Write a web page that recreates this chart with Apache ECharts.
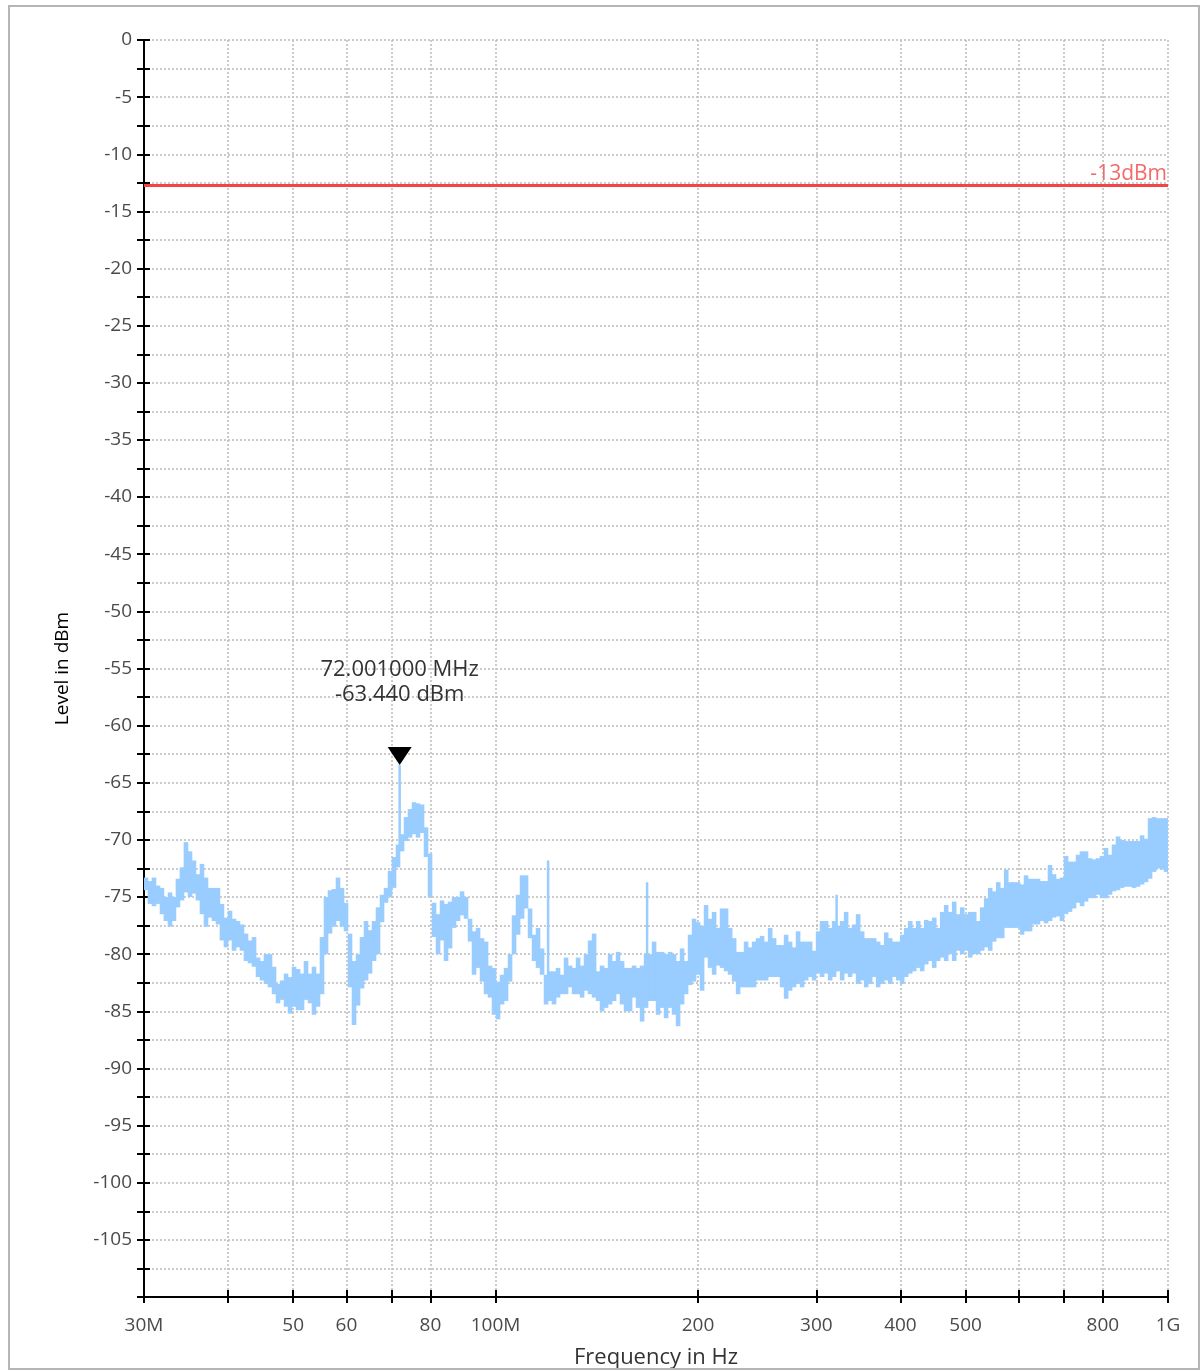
<!DOCTYPE html>
<html>
<head>
<meta charset="utf-8">
<script src="https://cdn.jsdelivr.net/npm/echarts@6/dist/echarts.min.js"></script>
<style>
  html, body { margin: 0; padding: 0; background: #ffffff; }
  #chart { width: 1203px; height: 1372px; }
</style>
</head>
<body>
<div id="chart"></div>
<script>
// ---------- DATA ----------
// Sweep frequencies in MHz
const freqMHz = [
  30.00, 30.41, 30.83, 31.26, 31.69, 32.12, 32.57, 33.02,
  33.47, 33.93, 34.40, 34.88, 35.36, 35.84, 36.34, 36.84,
  37.35, 37.86, 38.39, 38.91, 39.45, 40.00, 40.55, 41.11,
  41.68, 42.25, 42.84, 43.43, 44.03, 44.63, 45.25, 45.87,
  46.51, 47.15, 47.80, 48.46, 49.13, 49.80, 50.49, 51.19,
  51.89, 52.61, 53.33, 54.07, 54.81, 55.57, 56.34, 57.11,
  57.90, 58.70, 59.51, 60.33, 61.16, 62.01, 62.86, 63.73,
  64.61, 65.50, 66.40, 67.32, 68.25, 69.19, 70.14, 71.11,
  72.09, 73.09, 74.09, 75.12, 76.15, 77.20, 78.27, 79.35,
  80.44, 81.55, 82.68, 83.82, 84.97, 86.15, 87.33, 88.54,
  89.76, 91.00, 92.25, 93.53, 94.82, 96.12, 97.45, 98.79,
  100.16, 101.54, 102.94, 104.36, 105.80, 107.26, 108.74, 110.24,
  111.76, 113.30, 114.86, 116.45, 118.05, 119.68, 121.33, 123.01,
  124.70, 126.42, 128.17, 129.94, 131.73, 133.55, 135.39, 137.26,
  139.15, 141.07, 143.01, 144.99, 146.99, 149.02, 151.07, 153.16,
  155.27, 157.41, 159.58, 161.78, 164.01, 166.28, 168.57, 170.89,
  173.25, 175.64, 178.06, 180.52, 183.01, 185.53, 188.09, 190.69,
  193.32, 195.98, 198.68, 201.4, 204.2, 207.0, 209.9, 212.8,
  215.7, 218.7, 221.7, 224.8, 227.9, 231.0, 234.2, 237.4,
  240.7, 244.0, 247.4, 250.8, 254.3, 257.8, 261.3, 264.9,
  268.6, 272.3, 276.0, 279.8, 283.7, 287.6, 291.6, 295.6,
  299.7, 303.8, 308.0, 312.3, 316.6, 320.9, 325.4, 329.9,
  334.4, 339.0, 343.7, 348.5, 353.3, 358.2, 363.1, 368.1,
  373.2, 378.4, 383.6, 388.9, 394.3, 399.7, 405.2, 410.8,
  416.5, 422.2, 428.1, 434.0, 440.0, 446.0, 452.2, 458.4,
  464.7, 471.1, 477.6, 484.2, 490.9, 497.7, 504.5, 511.5,
  518.5, 525.7, 532.9, 540.3, 547.7, 555.3, 563.0, 570.7,
  578.6, 586.6, 594.7, 602.9, 610.8, 619.2, 627.8, 636.4,
  645.2, 654.1, 663.1, 672.3, 681.5, 690.9, 700.5, 710.1,
  719.9, 729.9, 739.9, 750.2, 760.5, 771.0, 781.7, 792.4,
  803.4, 814.4, 825.6, 837.0, 848.6, 860.3, 872.2, 884.2,
  896.4, 908.8, 921.3, 934.0, 946.9, 960.0, 973.2, 986.6,
  1000.0
];
// Upper edge of the noise band at each frequency (dBm)
const peakDb = [
  -73.3, -73.6, -73.3, -74.0, -74.2, -75.0, -74.6, -75.0,
  -73.4, -72.4, -70.2, -71.0, -71.8, -73.0, -72.1, -73.3,
  -74.2, -74.2, -74.2, -75.6, -76.8, -76.2, -76.9, -77.1,
  -77.4, -78.2, -78.8, -78.5, -80.3, -80.6, -80.0, -80.0,
  -81.1, -82.6, -82.3, -81.7, -82.0, -81.1, -81.3, -81.7,
  -80.6, -81.7, -81.1, -81.7, -78.5, -75.0, -74.4, -74.3,
  -73.3, -74.2, -75.5, -78.2, -80.6, -80.0, -78.5, -77.1,
  -77.9, -77.1, -75.9, -74.8, -74.2, -72.7, -71.5, -70.4,
  -69.5, -68.0, -67.3, -66.7, -66.8, -66.9, -68.9, -71.2,
  -75.5, -76.5, -75.3, -75.6, -75.4, -75.0, -75.0, -74.5,
  -75.0, -76.9, -78.0, -77.7, -78.6, -78.9, -81.0, -81.2,
  -82.4, -81.8, -81.2, -80.0, -76.6, -74.8, -73.1, -73.1,
  -76.0, -78.3, -77.7, -79.5, -81.8, -81.5, -81.5, -81.2,
  -81.8, -80.3, -81.0, -81.2, -80.3, -81.0, -80.0, -78.8,
  -78.2, -81.5, -81.0, -81.2, -80.0, -80.6, -79.8, -80.6,
  -81.2, -81.2, -81.0, -81.2, -81.0, -80.0, -80.0, -78.9,
  -79.8, -79.8, -80.0, -79.8, -80.0, -80.6, -79.5, -80.6,
  -78.3, -76.9, -77.2, -77.5, -75.7, -76.9, -76.3, -77.7,
  -76.0, -76.0, -77.7, -78.6, -79.8, -79.8, -78.9, -79.4,
  -78.9, -78.6, -78.4, -78.9, -77.7, -78.6, -79.2, -79.2,
  -78.3, -78.9, -79.4, -78.0, -78.9, -78.9, -78.9, -79.7,
  -78.0, -77.1, -77.1, -77.7, -77.1, -77.5, -77.1, -76.3,
  -77.7, -77.4, -76.5, -78.0, -78.6, -78.6, -78.6, -78.9,
  -79.2, -78.1, -78.6, -78.9, -78.9, -78.3, -77.7, -77.1,
  -77.7, -77.1, -77.7, -77.0, -77.1, -76.8, -77.7, -76.3,
  -75.7, -76.3, -75.4, -76.5, -75.9, -76.5, -76.3, -76.3,
  -77.1, -75.9, -75.1, -74.2, -74.5, -73.7, -74.2, -72.6,
  -73.7, -73.7, -73.7, -73.9, -73.1, -73.4, -73.4, -73.4,
  -73.6, -73.6, -72.2, -73.0, -73.4, -73.3, -71.4, -71.9,
  -71.9, -71.3, -71.0, -71.0, -71.6, -71.7, -71.6, -71.4,
  -70.7, -71.3, -70.4, -69.7, -70.0, -70.1, -70.1, -70.1,
  -70.1, -69.6, -69.9, -68.1, -68.0, -68.1, -68.1, -68.1,
  -69.6
];
// Lower edge of the noise band at each frequency (dBm)
const floorDb = [
  -74.4, -75.6, -75.8, -75.6, -76.5, -77.1, -77.6, -77.1,
  -75.9, -75.3, -74.6, -75.0, -74.7, -75.3, -76.5, -77.6,
  -76.8, -77.1, -77.4, -78.8, -79.4, -78.8, -79.7, -79.4,
  -79.7, -80.6, -80.8, -81.1, -82.0, -82.3, -82.6, -82.9,
  -83.5, -84.3, -84.0, -84.6, -85.2, -84.6, -84.9, -84.9,
  -84.0, -84.3, -85.3, -84.6, -83.5, -80.0, -78.2, -77.6,
  -77.1, -77.6, -78.0, -82.9, -86.2, -84.5, -83.0, -82.3,
  -81.7, -80.6, -80.0, -77.2, -75.5, -75.0, -74.2, -72.4,
  -71.0, -70.1, -69.8, -69.5, -69.8, -69.4, -71.5, -75.0,
  -78.5, -80.0, -78.8, -80.6, -79.5, -77.7, -77.1, -76.6,
  -76.9, -78.9, -81.8, -81.2, -82.4, -83.5, -83.8, -85.3,
  -85.7, -84.4, -84.1, -82.4, -80.0, -78.3, -76.9, -76.0,
  -78.6, -80.6, -81.2, -81.8, -84.4, -84.1, -84.4, -83.8,
  -83.5, -83.5, -82.9, -83.5, -83.5, -83.8, -83.2, -83.5,
  -83.8, -84.1, -85.0, -84.7, -84.4, -84.1, -83.5, -84.4,
  -85.0, -85.0, -83.8, -84.7, -85.9, -84.7, -84.1, -84.1,
  -85.3, -84.7, -85.6, -84.7, -85.3, -86.3, -84.4, -83.5,
  -82.7, -82.4, -81.8, -83.2, -80.3, -81.2, -81.8, -81.0,
  -81.2, -81.5, -81.8, -82.4, -83.5, -82.9, -82.9, -82.9,
  -82.9, -82.3, -82.3, -82.3, -82.0, -82.0, -82.0, -82.9,
  -83.9, -83.2, -82.9, -82.6, -82.9, -82.3, -82.0, -82.3,
  -81.7, -82.0, -81.7, -82.3, -82.0, -81.5, -82.3, -81.7,
  -82.0, -81.7, -82.6, -82.3, -82.9, -82.6, -82.0, -82.9,
  -82.6, -82.3, -82.6, -82.0, -82.3, -82.6, -82.0, -81.7,
  -81.5, -81.2, -81.5, -80.9, -80.6, -81.2, -80.6, -80.3,
  -80.6, -80.0, -80.6, -79.7, -80.0, -79.7, -80.3, -80.0,
  -80.0, -79.7, -79.4, -79.7, -78.9, -78.6, -78.6, -77.7,
  -77.7, -77.7, -77.7, -78.3, -78.0, -78.0, -77.4, -77.4,
  -77.1, -77.3, -77.1, -76.8, -76.7, -77.1, -76.5, -76.3,
  -76.0, -75.5, -75.8, -75.4, -75.1, -75.1, -74.8, -75.1,
  -75.1, -74.8, -74.5, -74.4, -74.2, -74.1, -74.1, -74.2,
  -74.1, -73.9, -73.7, -73.4, -72.8, -72.5, -72.6, -72.8,
  -73.1
];
// Narrow spurious lines standing above the noise band
const spikeFreqMHz = [72.001, 119.7, 168.0, 321.5];
const spikeLevelDb = [-63.44, -71.8, -73.7, -74.8];
// Marker
const peakFreqMHz = 72.001;
const peakLevelDb = -63.44;
// Limit line
const limitLevelDb = -12.7;
const limitText = '-13dBm';
// Axes
const xTickFreqs = [30, 40, 50, 60, 70, 80, 100, 200, 300, 400, 500, 600, 700, 800, 1000];
const xLabelFreqs = [30, 50, 60, 80, 100, 200, 300, 400, 500, 800, 1000];
const xLabelTexts = ['30M', '50', '60', '80', '100M', '200', '300', '400', '500', '800', '1G'];
const yMin = -110, yMax = 0, yTickStep = 2.5, yLabelStep = 5;

// ---------- CHART ----------
const lg = Math.log10;
const TRACE = '#99ccff';
const FONT = 'Open Sans';

// each band cell: [x (log10 MHz), low dBm, high dBm, x of next sample]
const bandCells = freqMHz.map((f, i) => [
  lg(f), floorDb[i], peakDb[i], lg(i + 1 < freqMHz.length ? freqMHz[i + 1] : f)
]);
const nearestFloor = (f) => {
  let best = 0, bd = Infinity;
  freqMHz.forEach((g, i) => { const d = Math.abs(lg(g) - lg(f)); if (d < bd) { bd = d; best = i; } });
  return floorDb[best];
};
const spikeSeries = spikeFreqMHz.map((f, k) => ({
  name: 'spike' + k, type: 'line', z: 3, symbol: 'none', showSymbol: false, silent: true,
  data: [[lg(f), nearestFloor(f)], [lg(f), spikeLevelDb[k]]],
  lineStyle: { color: TRACE, width: 2.5 }
}));

const xMin = lg(30), xMax = lg(1000);
const xLabel = (v) => {
  let best = 0, bd = Infinity;
  xLabelFreqs.forEach((f, i) => { const d = Math.abs(lg(f) - v); if (d < bd) { bd = d; best = i; } });
  return bd < 1e-6 ? xLabelTexts[best] : '';
};
const yLabel = (v) => (Math.abs(v % yLabelStep) < 1e-9 && v > yMin) ? String(Math.round(v)) : '';

const gridLine = { show: true, lineStyle: { color: '#bcbcbc', width: 1.5, type: [2, 2] } };

const chart = echarts.init(document.getElementById('chart'), null, { renderer: 'canvas' });
chart.setOption({
  animation: false,
  backgroundColor: '#ffffff',
  graphic: [{
    type: 'rect', silent: true, z: 100,
    shape: { x: 9, y: 6, width: 1190, height: 1363 },
    style: { fill: 'none', stroke: '#b5b5b5', lineWidth: 2 }
  }],
  grid: { left: 144, right: 35, top: 40, bottom: 75, outerBoundsMode: 'none', containLabel: false },
  xAxis: [{
    type: 'value', position: 'bottom', min: xMin, max: xMax,
    name: 'Frequency in Hz', nameLocation: 'middle', nameGap: 50,
    nameTextStyle: { fontFamily: FONT, fontSize: 22, color: '#333' },
    axisLine: { onZero: false, lineStyle: { color: '#000', width: 2 } },
    axisTick: { show: true, inside: false, length: 6, customValues: xTickFreqs.map(lg), lineStyle: { color: '#000', width: 2 } },
    axisLabel: { customValues: xLabelFreqs.map(lg), formatter: xLabel, margin: 19,
      fontFamily: FONT, fontSize: 19, color: '#4a4a4a' },
    splitLine: gridLine
  }, {
    type: 'value', position: 'bottom', min: xMin, max: xMax,
    axisLine: { show: false, onZero: false },
    axisTick: { show: true, inside: true, length: 7, customValues: xTickFreqs.map(lg), lineStyle: { color: '#000', width: 2 } },
    axisLabel: { show: false },
    splitLine: { show: false }
  }],
  yAxis: [{
    type: 'value', position: 'left', min: yMin, max: yMax, interval: yTickStep,
    name: 'Level in dBm', nameLocation: 'middle', nameGap: 72, nameRotate: 90,
    nameTextStyle: { fontFamily: FONT, fontSize: 19, color: '#000' },
    axisLine: { onZero: false, lineStyle: { color: '#000', width: 2 } },
    axisTick: { show: true, inside: false, length: 7, lineStyle: { color: '#000', width: 2 } },
    axisLabel: { formatter: yLabel, margin: 12, fontFamily: FONT, fontSize: 19, color: '#4a4a4a' },
    splitLine: gridLine
  }, {
    type: 'value', position: 'left', min: yMin, max: yMax, interval: yTickStep,
    axisLine: { show: false, onZero: false },
    axisTick: { show: true, inside: true, length: 6, lineStyle: { color: '#000', width: 2 } },
    axisLabel: { show: false },
    splitLine: { show: false }
  }],
  series: [{
    name: 'trace', type: 'custom', z: 2, silent: true, clip: true,
    data: bandCells,
    encode: { x: [0, 3], y: [1, 2] },
    renderItem: (params, api) => {
      const top = api.coord([api.value(0), api.value(2)]);
      const bot = api.coord([api.value(3), api.value(1)]);
      const w = Math.max(bot[0] - top[0], 1.5) + 0.6;
      return {
        type: 'rect',
        shape: { x: top[0] - 0.3, y: top[1], width: w, height: Math.max(bot[1] - top[1], 1.5) },
        style: { fill: TRACE }
      };
    }
  },
  ...spikeSeries,
  {
    name: 'marker', type: 'line', data: [], z: 5,
    markPoint: {
      symbol: 'path://M0 0L24 0L12 18Z', symbolSize: [24, 18], symbolOffset: [0, -9],
      itemStyle: { color: '#000' },
      label: {
        show: true, position: 'top', distance: 40,
        formatter: () => peakFreqMHz.toFixed(6) + ' MHz\n' + peakLevelDb.toFixed(3) + ' dBm',
        fontFamily: FONT, fontSize: 22, lineHeight: 25, color: '#333', align: 'center'
      },
      data: [{ coord: [lg(peakFreqMHz), peakLevelDb] }]
    }
  }, {
    name: 'limit', type: 'line', data: [], z: 4,
    markLine: {
      silent: true, symbol: 'none',
      lineStyle: { color: '#f24444', width: 3, type: 'solid' },
      label: { show: true, position: 'insideEndTop', distance: 1, formatter: limitText,
        fontFamily: FONT, fontSize: 21, color: '#f46a6a' },
      data: [{ yAxis: limitLevelDb }]
    }
  }]
});
</script>
</body>
</html>
